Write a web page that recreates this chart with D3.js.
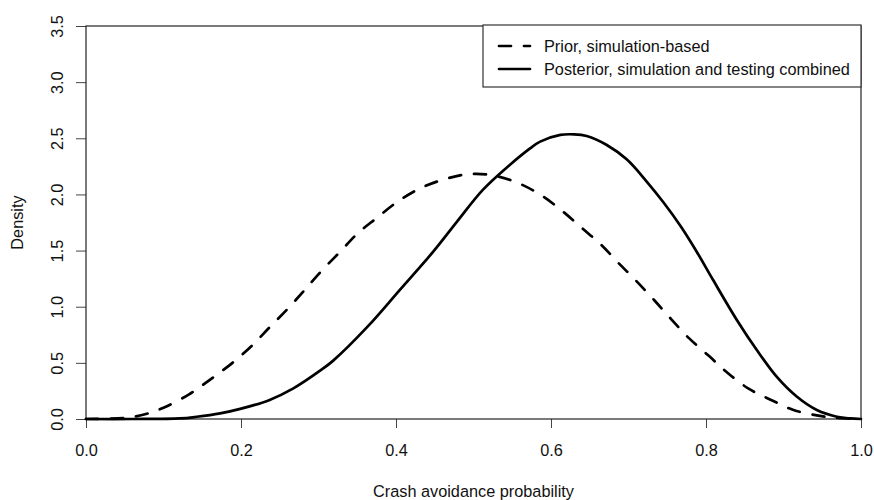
<!DOCTYPE html>
<html>
<head>
<meta charset="utf-8">
<script src="https://cdn.jsdelivr.net/npm/d3@7"></script>
<style>
  body { margin: 0; background: #fff; }
  svg text { font-family: "Liberation Sans", Arial, sans-serif; font-size: 16.3px; fill: #111; }
</style>
</head>
<body>
<svg id="chart" width="874" height="500"></svg>
<script>
// values
var prior_x = [0, 0.05, 0.075, 0.1, 0.133, 0.162, 0.189, 0.215, 0.236, 0.26, 0.281, 0.304, 0.328, 0.35, 0.375, 0.401, 0.43, 0.46, 0.493, 0.525, 0.558, 0.588, 0.615, 0.64, 0.665, 0.687, 0.71, 0.733, 0.755, 0.778, 0.804, 0.828, 0.855, 0.884, 0.913, 0.945, 0.97, 1];
var prior_y = [0, 0.01, 0.04, 0.1, 0.22, 0.36, 0.5, 0.66, 0.81, 0.98, 1.14, 1.32, 1.49, 1.65, 1.79, 1.93, 2.05, 2.13, 2.18, 2.17, 2.1, 1.99, 1.85, 1.7, 1.55, 1.39, 1.23, 1.06, 0.89, 0.72, 0.56, 0.41, 0.27, 0.17, 0.08, 0.03, 0.01, 0];

var post_x = [0, 0.06, 0.121, 0.143, 0.173, 0.199, 0.237, 0.267, 0.302, 0.319, 0.363, 0.405, 0.448, 0.479, 0.512, 0.543, 0.573, 0.586, 0.612, 0.63, 0.646, 0.672, 0.698, 0.724, 0.745, 0.768, 0.788, 0.809, 0.84, 0.866, 0.892, 0.917, 0.943, 0.969, 0.986, 1];
var post_y = [0, 0, 0.005, 0.02, 0.05, 0.09, 0.17, 0.27, 0.43, 0.52, 0.82, 1.15, 1.49, 1.76, 2.04, 2.24, 2.41, 2.47, 2.53, 2.535, 2.52, 2.44, 2.31, 2.11, 1.93, 1.71, 1.49, 1.24, 0.88, 0.61, 0.37, 0.2, 0.08, 0.02, 0.005, 0];

var x_ticks = [0, 0.2, 0.4, 0.6, 0.8, 1.0];
var y_ticks = [0, 0.5, 1.0, 1.5, 2.0, 2.5, 3.0, 3.5];
var legend_labels = ["Prior, simulation-based", "Posterior, simulation and testing combined"];
var x_title = "Crash avoidance probability";
var y_title = "Density";

var svg = d3.select("#chart");
var margin = {top: 26, right: 13, bottom: 81, left: 86};
var width = 874 - margin.left - margin.right,
    height = 500 - margin.top - margin.bottom;

var x_scale = d3.scaleLinear().domain([0, 1]).range([margin.left, margin.left + width]);
var y_scale = d3.scaleLinear().domain([0, 3.5]).range([margin.top + height, margin.top]);

//x axis, R style: ticks outward, labels below
var x_axis = d3.axisBottom(x_scale).tickValues(x_ticks).tickFormat(d3.format(".1f")).tickSize(9);
var gx = svg.append("g").attr("transform", "translate(0," + (margin.top + height) + ")").call(x_axis);
gx.select(".domain").remove();
gx.selectAll(".tick line").attr("stroke", "#444");
gx.selectAll(".tick text").attr("dy", null).attr("y", 37).style("font-size", "16.3px");

var y_axis = d3.axisLeft(y_scale).tickValues(y_ticks).tickFormat(d3.format(".1f")).tickSize(10);
var gy = svg.append("g").attr("transform", "translate(" + margin.left + ",0)").call(y_axis);
gy.select(".domain").remove();
gy.selectAll(".tick line").attr("stroke", "#444");
gy.selectAll(".tick text")
  .attr("x", null).attr("dy", null)
  .attr("text-anchor", "middle")
  .attr("transform", "translate(-23,0) rotate(-90)")
  .style("font-size", "16.3px");

//plot frame
svg.append("rect")
  .attr("x", margin.left).attr("y", margin.top)
  .attr("width", width).attr("height", height)
  .attr("fill", "none").attr("stroke", "#222").attr("stroke-width", 1.2);

//axis titles
svg.append("text").attr("x", margin.left + width / 2).attr("y", 497)
  .attr("text-anchor", "middle").text(x_title);
svg.append("text").attr("transform", "translate(23," + (margin.top + height / 2) + ") rotate(-90)")
  .attr("text-anchor", "middle").text(y_title);

//curves
var line = d3.line()
  .x(d => x_scale(d[0]))
  .y(d => y_scale(Math.max(0, d[1])))
  .curve(d3.curveCatmullRom.alpha(0.5));

var prior_data = prior_x.map((v, i) => [v, prior_y[i]]);
var post_data = post_x.map((v, i) => [v, post_y[i]]);

svg.append("path").datum(prior_data).attr("d", line)
  .attr("fill", "none").attr("stroke", "#000").attr("stroke-width", 2.7)
  .attr("stroke-dasharray", "12,13").attr("stroke-linecap", "round");
svg.append("path").datum(post_data).attr("d", line)
  .attr("fill", "none").attr("stroke", "#000").attr("stroke-width", 2.7)
  .attr("stroke-linejoin", "round").attr("stroke-linecap", "round");

//legend
var leg = svg.append("g");
leg.append("rect").attr("x", 483).attr("y", margin.top - 1).attr("width", x_scale(1) - 483).attr("height", 62)
  .attr("fill", "#fff").attr("stroke", "#333").attr("stroke-width", 1.2);
var leg_rows = [46, 69];
legend_labels.forEach(function(lbl, i) {
  var ln = leg.append("line").attr("x1", 499).attr("x2", 530)
    .attr("y1", leg_rows[i]).attr("y2", leg_rows[i])
    .attr("stroke", "#000").attr("stroke-width", 2.7).attr("stroke-linecap", "round");
  if (i === 0) ln.attr("stroke-dasharray", "12,13");
  leg.append("text").attr("x", 544).attr("y", leg_rows[i] + 6).text(lbl);
});
</script>
</body>
</html>
